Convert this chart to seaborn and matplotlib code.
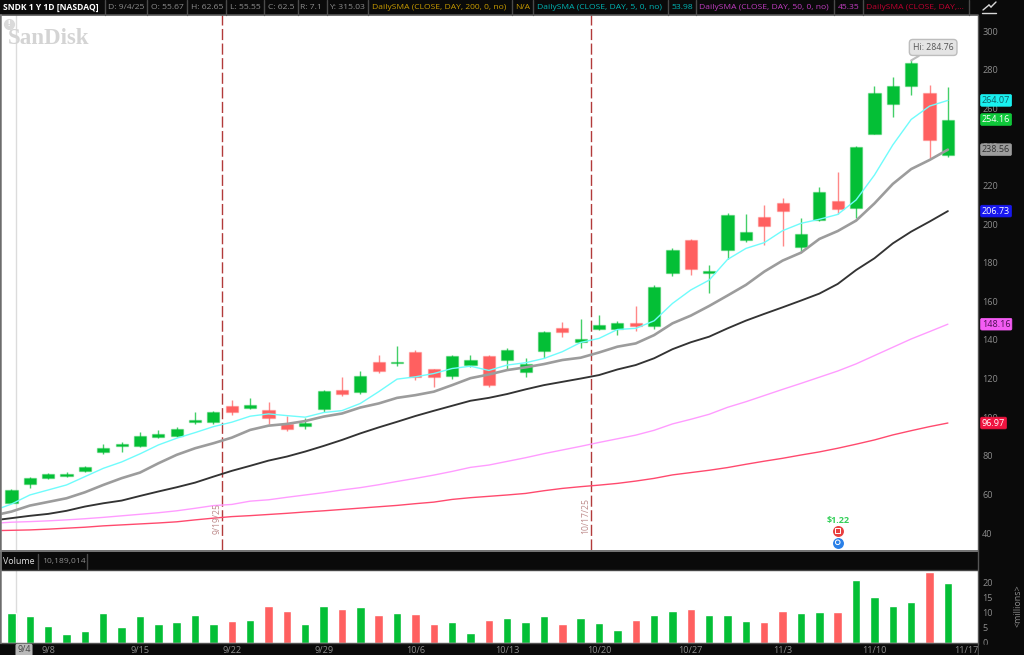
import matplotlib
matplotlib.use("Agg")
import matplotlib.pyplot as plt
from matplotlib.lines import Line2D
from matplotlib.patches import Rectangle
import numpy as np
import pandas as pd
import seaborn as sns

# candles
opens = [55.67, 65.4, 68.7, 69.75, 72.3, 82, 85.3, 85.3, 89.9, 90.5, 97.4, 97.7, 105.7, 105, 103.6, 96.5, 95.6,
         104.3, 113.9, 113, 128.5, 128, 133.5, 125.2, 121.1, 126.8, 131.5, 129.7, 123.5, 134.4, 146, 138.9, 145.8,
         145.8, 149, 147, 174.5, 191.6, 174.9, 186.6, 191.8, 203.7, 210.9, 188.3, 202.1, 212.1, 208.5, 246.8,
         262.2, 271.5, 267.9, 235.8]
highs = [62.65, 69.1, 71, 71.6, 74.8, 86, 87, 92.2, 93.2, 94.8, 102.9, 103.1, 108.8, 110.1, 107.9, 100.6, 99.4,
         114.1, 120.9, 123.9, 132.1, 137, 134.7, 125.2, 132.3, 132, 132, 135.8, 130.4, 144.7, 149.2, 150.8, 152.9,
         149.7, 157.5, 168.5, 187.4, 192.1, 178.8, 205.7, 205.2, 209.9, 213.5, 203, 219, 226.8, 240.3, 271.3,
         276, 284.76, 271.8, 270.8]
lows = [55.55, 63.5, 67.9, 69.2, 71.8, 81, 82.2, 84.6, 89.3, 89.9, 96.5, 96.7, 101.3, 104.4, 96.5, 93, 94.1,
        102.9, 110.8, 111.8, 123, 126.3, 119, 115.4, 119.9, 125.8, 115.7, 124.7, 120.8, 130.4, 141.6, 135.9, 145.1,
        142.5, 144.6, 145.8, 173.3, 173.6, 164.3, 181.8, 190.9, 189.3, 188.8, 186.2, 201.8, 205, 203, 246.8,
        255.6, 267, 234, 234.9]
closes = [62.5, 68.5, 70.4, 70.4, 74.1, 84.2, 86.1, 90.1, 91.5, 93.9, 98.7, 102.5, 102.5, 106.3, 99.8, 94.1, 97.2,
          113.8, 111.8, 121.3, 123.9, 128.5, 120.9, 120.8, 131.8, 129.7, 116.6, 134.6, 127.3, 144.2, 144.2, 140.3,
          147.8, 149, 147, 167.5, 186.4, 176.6, 175.5, 204.5, 196.1, 199.2, 206.8, 194.7, 216.6, 207.6, 239.7,
          267.9, 271.5, 283.2, 243.5, 254.16]
volume = [10, 9, 5.7, 3.1, 3.8, 10, 5.4, 9, 6.2, 6.9, 9.2, 6.4, 7.4, 7.7, 12.3, 10.5, 6.2, 12.3, 11.3, 12, 9.2,
          10, 9.7, 6.4, 6.9, 3.3, 7.7, 8.2, 7, 8.8, 6.3, 8.4, 6.5, 4.2, 7.6, 9.1, 10.7, 11.1, 9.1, 9.3, 7.3, 6.8,
          10.7, 9.8, 10.3, 10.3, 20.7, 15.3, 12.1, 13.7, 23.5, 19.7]

# moving averages, first value is the day before the chart starts
sma_cyan = [51.5, 55, 59.7, 62.3, 64.9, 69.2, 73.5, 76.8, 81, 85.6, 89.1, 92, 95.1, 97.4, 100.5, 101.7, 100.8, 100,
            102.4, 103.4, 107.1, 113.2, 119.7, 120.9, 122.6, 125.2, 126.4, 124.2, 127, 128.2, 130.4, 133.9, 138.7,
            140.8, 145.4, 146, 149.9, 158.9, 165.9, 171, 181.7, 187.4, 190.4, 196.6, 200.4, 202.5, 205, 212.5,
            225.4, 241, 254.2, 261.1, 264.07]
sma_gray = [49, 51.1, 54.2, 56.1, 58, 61.1, 64.9, 68.4, 71.3, 76.1, 80.5, 83.9, 86.5, 89.4, 93.4, 95.6, 96.5, 98,
            100.3, 101.9, 105, 107.1, 110, 111.4, 113.2, 116.6, 120.2, 122.1, 124.4, 125.8, 127.5, 129.6, 130.8,
            133.5, 136.5, 138.2, 142.5, 148.6, 152.6, 157.6, 163, 168.5, 175.4, 181.1, 185.2, 192.3, 196.4, 201.8,
            210.7, 220.8, 228.5, 233.2, 238.56]
sma_black = [46.5, 47.7, 48.9, 49.9, 51.5, 53.7, 55.4, 56.8, 59.2, 61.5, 63.7, 66.1, 69.2, 72.2, 74.8, 77.5, 79.6,
             82.2, 85.1, 88.2, 91.6, 94.7, 97.6, 100.6, 103.3, 105.9, 108.5, 110, 112, 114.4, 116.6, 118.3, 120,
             121.8, 124.7, 127, 130.5, 135.2, 138.8, 141.7, 146, 150, 153.5, 156.9, 160.4, 164, 169, 176.2, 182.3,
             190, 196.1, 201.3, 206.73]
sma_pink = [45, 45.6, 45.9, 46.3, 46.8, 47.4, 48.1, 48.9, 49.7, 50.5, 51.5, 52.8, 54.2, 54.8, 56.5, 57.2, 58.5, 59.7,
            60.9, 62.3, 63.5, 65, 66.7, 68.3, 70, 71.9, 74, 75.2, 77.1, 79, 81.1, 83, 84.9, 86.9, 88.8, 90.7, 93.2,
            96.5, 98.9, 101.5, 105.1, 108, 111.2, 114.4, 117.5, 120.7, 123.9, 127.6, 131.9, 136.2, 140.5, 144.3, 148.16]
sma_red = [41.2, 41.4, 41.6, 42, 42.5, 43, 43.7, 44.2, 44.7, 45.2, 45.8, 46.8, 47.7, 48.5, 49, 49.6, 50.2, 50.9, 51.5,
           52.2, 52.9, 53.6, 54.3, 55.2, 56, 57.4, 58.3, 59, 59.7, 60.5, 61.9, 63.1, 64, 64.8, 65.7, 66.9, 68.3, 70.1,
           71.3, 72.5, 73.9, 75.6, 77.2, 78.7, 80.4, 82, 83.9, 86, 88.2, 90.8, 93, 95.1, 96.97]

date_ticks = [2, 7, 12, 17, 22, 27, 32, 37, 42, 47, 52]
date_labels = ["9/8", "9/15", "9/22", "9/29", "10/6", "10/13", "10/20", "10/27", "11/3", "11/10", "11/17"]
price_ticks = list(range(40, 301, 20))
volume_ticks = [0, 5, 10, 15, 20]
event_days = [11.46, 31.56]
event_labels = ["9/19/25", "10/17/25"]

GREEN = "#04bf36"
RED = "#ff6060"
DARK = "#0a0a0a"
TICK_TEXT = "#8c8c8c"
W, H = 1024, 655


def fx(px):
    return px / W


def fy(py):
    return 1 - py / H


def label(px, py, text, color=TICK_TEXT, size=6.1, weight="normal", **kw):
    return fig.text(fx(px), fy(py), text, color=color, fontsize=size, fontweight=weight,
                    va="center", **kw)


def seg(x0, y0, x1, y1, color="#4a4a4a", lw=1.0):
    fig.add_artist(Line2D([fx(x0), fx(x1)], [fy(y0), fy(y1)], color=color, lw=lw))


sns.set_theme(style="white")
plt.rcParams["font.family"] = ["Open Sans", "DejaVu Sans"]

fig = plt.figure(figsize=(W / 100, H / 100), dpi=100, facecolor=DARK)
ax = fig.add_axes([fx(1), fy(550), fx(977), (550 - 15) / H], facecolor="white")
ax_vol = fig.add_axes([fx(1), fy(643), fx(977), (643 - 570) / H], facecolor="white")

days = np.arange(len(closes))
sma_days = np.arange(-1, len(closes))
opens_a, closes_a = np.array(opens), np.array(closes)
up = closes_a >= opens_a
colors = np.where(up, GREEN, RED)

# candles
ax.vlines(days, lows, highs, colors=colors, lw=1.0, alpha=0.75, zorder=2)
ax.bar(days, np.abs(closes_a - opens_a), bottom=np.minimum(opens_a, closes_a), width=0.66,
       color=colors, edgecolor=[c + "55" for c in colors], linewidth=1.0, zorder=2)

# moving averages
for values, col, lw in [(sma_red, "#ff4a6e", 1.0), (sma_pink, "#ff9cff", 1.0), (sma_black, "#333333", 1.35),
                        (sma_gray, "#9c9c9c", 1.9), (sma_cyan, "#6ffcfc", 1.0)]:
    sns.lineplot(x=sma_days, y=values, color=col, lw=lw, ax=ax, errorbar=None, zorder=3)

# volume pane
vol_df = pd.DataFrame({"day": days, "volume": volume, "up": up})
sns.barplot(data=vol_df, x="day", y="volume", hue="up", palette={True: GREEN, False: RED}, native_scale=True,
            dodge=False, width=0.46, saturation=1, errorbar=None, legend=False, ax=ax_vol, zorder=2)

ax.set_xlim(-0.57, 52.64)
ax.set_ylim(31.2, 308.3)
ax_vol.set_xlim(-0.57, 52.64)
ax_vol.set_ylim(0, 24.1)

# events, the day marker and the earnings markers
for day, text in zip(event_days, event_labels):
    ax.axvline(day, color="#b23a3a", lw=1.0, dashes=(8, 2.5), zorder=1)
    ax.annotate(text, xy=(day, 40), xytext=(-5, -1), textcoords="offset pixels", rotation=90, ha="center",
                va="bottom", color="#bd8a8a", fontsize=6.2)
for a in (ax, ax_vol):
    a.axvline(0.23, color="#dcdcdc", lw=1.0, zorder=1)

ax.scatter([45], [41.2], s=62, color="#e84040", zorder=4, linewidths=0)
ax.scatter([45], [41.2], s=11, marker="s", facecolor="none", edgecolor="white", linewidths=0.7, zorder=5)
ax.scatter([45], [34.8], s=62, color="#2a80e8", zorder=4, linewidths=0)
ax.scatter([45], [35.2], s=11, marker="o", facecolor="none", edgecolor="white", linewidths=0.7, zorder=5)
ax.annotate("$1.22", xy=(45, 46.6), ha="center", va="center", color="#35d05a", fontsize=6.5, fontweight="bold")

ax.annotate("Hi: 284.76", xy=(49, 284.76), xytext=(22, 13), textcoords="offset pixels", ha="center", va="center",
            color="#555555", fontsize=6.3, zorder=6,
            bbox=dict(boxstyle="round,pad=0.4", fc="#e4e4e4", ec="#bdbdbd", lw=1),
            arrowprops=dict(arrowstyle="-", color="#bdbdbd", lw=1.5, shrinkA=0, shrinkB=0))

# price axis on the right, tags sit on top of the tick labels
ax.yaxis.tick_right()
ax.set_yticks(price_ticks)
ax.tick_params(axis="y", length=0, pad=3, labelsize=6.6, labelcolor=TICK_TEXT)
ax.set_xticks([])
ax.set_xlabel("")
ax.set_ylabel("")

ax_vol.yaxis.tick_right()
ax_vol.set_yticks(volume_ticks)
ax_vol.tick_params(axis="y", length=0, pad=3, labelsize=6.6, labelcolor=TICK_TEXT)
ax_vol.set_xticks(date_ticks)
ax_vol.set_xticklabels(date_labels)
ax_vol.tick_params(axis="x", length=0, pad=2, labelsize=6.6, labelcolor=TICK_TEXT)
ax_vol.set_xlabel("")
ax_vol.set_ylabel("")
ax_vol.grid(False)
ax.grid(False)
for a in (ax, ax_vol):
    for spine in a.spines.values():
        spine.set_visible(False)

for tag, bg, fg in [(sma_cyan[-1], "#19f0f0", "#0d5f66"), (closes[-1], "#0fc73a", "white"),
                    (sma_gray[-1], "#9c9c9c", "#303030"), (sma_black[-1], "#1818f0", "white"),
                    (sma_pink[-1], "#f45cf4", "#4a1050"), (sma_red[-1], "#f01440", "white")]:
    ax.annotate(f"{tag:.2f}", xy=(1, tag), xycoords=ax.get_yaxis_transform(), xytext=(4, 0),
                textcoords="offset pixels", ha="left", va="center", color=fg, fontsize=6.5, zorder=8,
                annotation_clip=False, bbox=dict(boxstyle="round,pad=0.15", fc=bg, ec=bg, lw=0.5))

# header strip
header = [(3, "SNDK 1 Y 1D [NASDAQ]", "white", "bold"), (108, "D: 9/4/25", TICK_TEXT, "normal"),
          (151, "O: 55.67", TICK_TEXT, "normal"), (191, "H: 62.65", TICK_TEXT, "normal"),
          (230, "L: 55.55", TICK_TEXT, "normal"), (268, "C: 62.5", TICK_TEXT, "normal"),
          (300, "R: 7.1", TICK_TEXT, "normal"), (329, "Y: 315.03", TICK_TEXT, "normal"),
          (372, "DailySMA (CLOSE, DAY, 200, 0, no)", "#c89a00", "normal"), (515, "N/A", "#c89a00", "normal"),
          (537, "DailySMA (CLOSE, DAY, 5, 0, no)", "#00b4b4", "normal"), (671, "53.98", "#00b4b4", "normal"),
          (699, "DailySMA (CLOSE, DAY, 50, 0, no)", "#c03cc0", "normal"), (838, "45.35", "#c03cc0", "normal"),
          (866, "DailySMA (CLOSE, DAY,...", "#c00030", "normal")]
for px, text, col, weight in header:
    label(px, 7.5, text, color=col, weight=weight, ha="left")
for px in [105, 147, 187, 226, 264, 298, 327, 368, 512, 533, 668, 696, 834, 863, 969]:
    seg(px, 0, px, 15)
seg(0, 15, 978, 15, color="#555555", lw=1.2)

# volume strip
label(3, 561.5, "Volume", color="#e0e0e0", size=6.4, ha="left")
label(42, 561.5, "10,189,014", ha="left")
seg(38, 554, 38, 569)
seg(87, 554, 87, 569)
seg(0, 551, 978, 551, color="#777777", lw=1.4)
seg(0, 569.5, 978, 569.5, color="#444444")
seg(0, 643, 978, 643, color="#555555")
seg(978, 15, 978, 655, color="#555555")
seg(0.5, 15, 0.5, 643, color="#808080", lw=1.2)

label(24, 650, "9/4", color="#444444", size=6.4, ha="center",
      bbox=dict(boxstyle="round,pad=0.2", fc="#b8b8b8", ec="none"))
fig.text(fx(1018), fy(606), "<millions>", color=TICK_TEXT, fontsize=6.4, rotation=90, ha="center", va="center")

# logo and small icon in the corner
fig.text(fx(8), fy(39), "SanDisk", color="#d4d4d4", fontsize=16.5, fontweight="bold", family="Liberation Serif",
         ha="left", va="center")
fig.add_artist(Line2D([fx(9)], [fy(24)], marker="o", ms=7, color="#dadada", lw=0))
fig.text(fx(9), fy(24), "!", color="white", fontsize=6, fontweight="bold", ha="center", va="center")
seg(982, 13, 996, 13, color="#d8d8d8", lw=1.0)
seg(983, 10, 989, 5, color="#d8d8d8", lw=1.0)
seg(989, 5, 991, 7, color="#d8d8d8", lw=1.0)
seg(991, 7, 996, 2, color="#d8d8d8", lw=1.0)

# the 0 of the volume axis is cut by the date strip
fig.add_artist(Rectangle((fx(979), 0), fx(45), 10 / H, color=DARK, zorder=6, transform=fig.transFigure))

fig.savefig("out.png", dpi=100, facecolor=DARK)
